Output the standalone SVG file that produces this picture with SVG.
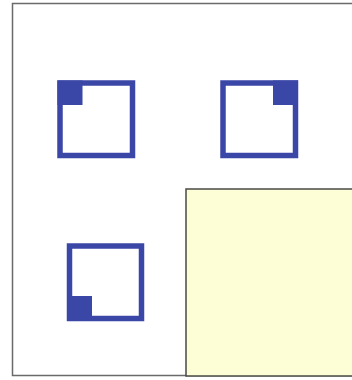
<svg xmlns="http://www.w3.org/2000/svg" width="352" height="380" viewBox="0 0 352 380">
<style>
.frame{fill:#fff;stroke:#6a6a6a;stroke-width:1.5}
.sq{fill:#fff;stroke:#3b47a6;stroke-width:5.5}
.corner{fill:#3b47a6}
.pad{fill:#fefed6;stroke:#4a4a44;stroke-width:1.5}
</style>
<rect width="352" height="380" fill="#fff"/>
<rect class="frame" x="12.5" y="3.5" width="345" height="372"/>
<g id="square-top-left">
<rect class="sq" x="60" y="83" width="72.5" height="72.5"/>
<rect class="corner" x="57.5" y="80.5" width="25" height="24.5"/>
</g>
<g id="square-top-right">
<rect class="sq" x="223" y="83" width="72.5" height="72.5"/>
<rect class="corner" x="273" y="80.5" width="25" height="24.5"/>
</g>
<g id="square-bottom-left">
<rect class="sq" x="69.5" y="246" width="72" height="72.5"/>
<rect class="corner" x="67" y="296" width="25" height="25"/>
</g>
<g id="yellow-area">
<rect class="pad" x="186" y="189" width="170" height="187"/>
</g>
</svg>
